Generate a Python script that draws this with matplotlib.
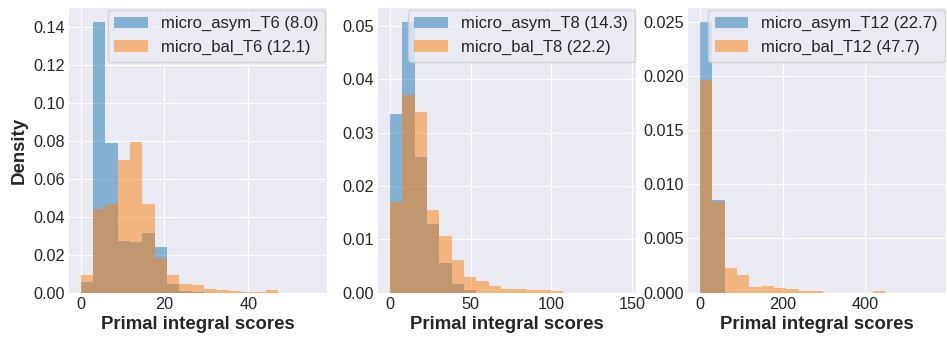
import numpy as np
import matplotlib
matplotlib.use("Agg")
import matplotlib.pyplot as plt

plt.style.use("seaborn-v0_8-darkgrid")
plt.rcParams.update({"font.family": "sans-serif",
                     "font.sans-serif": ["Liberation Sans", "Arial", "DejaVu Sans"],
                     "text.color": "#262626", "axes.labelcolor": "#262626",
                     "xtick.color": "#262626", "ytick.color": "#262626"})
BLUE = "#1f77b4"; ORANGE = "#ff7f0e"

# bin layout per panel (range 0..max, 19 equal bins)
NBINS = 19
XMAX_T6, XMAX_T8, XMAX_T12 = 56.0, 145.5, 567.0

# density per bin
asym_T6 = [0.0056, 0.1430, 0.0790, 0.0274, 0.0265, 0.0316, 0.0239, 0.0046, 0.0007, 0.0005,
           0, 0, 0, 0, 0, 0, 0, 0, 0]
bal_T6 = [0.0093, 0.0440, 0.0470, 0.0700, 0.0795, 0.0470, 0.0184, 0.0093, 0.0046, 0.0039,
          0.0018, 0.0014, 0.0010, 0.0005, 0.0005, 0.0012, 0, 0, 0]
asym_T8 = [0.0335, 0.0508, 0.0255, 0.0128, 0.0056, 0.0016, 0.0005, 0, 0, 0,
           0, 0, 0, 0, 0, 0, 0, 0, 0]
bal_T8 = [0.0169, 0.0370, 0.0339, 0.0155, 0.0106, 0.0061, 0.0030, 0.0021, 0.0012, 0.0007,
          0.0007, 0.0005, 0.0005, 0.0004, 0, 0, 0, 0, 0]
asym_T12 = [0.0250, 0.00858, 0, 0, 0, 0, 0, 0, 0, 0,
            0, 0, 0, 0, 0, 0, 0, 0, 0]
bal_T12 = [0.01958, 0.0084, 0.00224, 0.00165, 0.0005, 0.0006, 0.00043, 0.0003, 0.00015, 0.00015,
           0, 0, 0, 0, 0.0002, 0, 0, 0, 0]

panels = [
    (XMAX_T6, asym_T6, bal_T6, "micro_asym_T6 (8.0)", "micro_bal_T6 (12.1)"),
    (XMAX_T8, asym_T8, bal_T8, "micro_asym_T8 (14.3)", "micro_bal_T8 (22.2)"),
    (XMAX_T12, asym_T12, bal_T12, "micro_asym_T12 (22.7)", "micro_bal_T12 (47.7)"),
]

W, H = 947, 338
fig = plt.figure(figsize=(W / 100, H / 100), dpi=100)
lefts = [69, 378.3, 688.3]
for i, (left, (xmax, a, b, la, lb)) in enumerate(zip(lefts, panels)):
    ax = fig.add_axes([left / W, 45.3 / H, 258 / W, 284.7 / H])
    edges = np.linspace(0, xmax, NBINS + 1)
    ax.hist(edges[:-1], bins=edges, weights=a, color=BLUE, alpha=0.5, label=la)
    ax.hist(edges[:-1], bins=edges, weights=b, color=ORANGE, alpha=0.5, label=lb)
    ax.tick_params(labelsize=11.7, pad=3)
    ax.set_xlabel("Primal integral scores", fontsize=13.4, fontweight="bold", labelpad=3)
    if i == 0:
        ax.set_ylabel("Density", fontsize=13.4, fontweight="bold")
    ax.legend(loc="upper right", fontsize=12, frameon=True, borderaxespad=0.1)

fig.savefig("out.png", dpi=100)
